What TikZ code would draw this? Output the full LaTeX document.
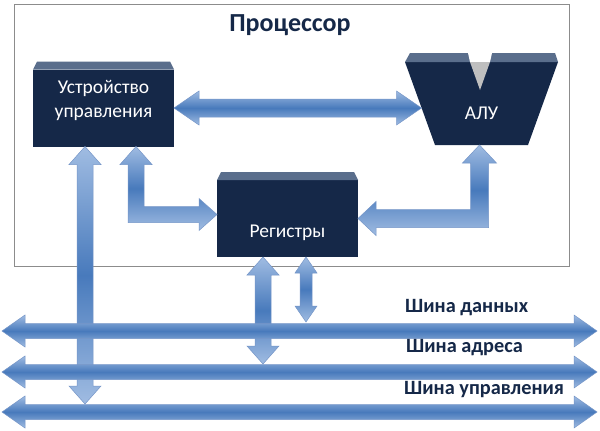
\documentclass[tikz,border=0pt]{standalone}
\usepackage{fontspec}
\setmainfont{Carlito}
\usetikzlibrary{calc}
\definecolor{navy}{RGB}{21,40,72}
\definecolor{bevelc}{RGB}{90,110,140}
\definecolor{arrlight}{RGB}{160,188,226}
\definecolor{arrdark}{RGB}{72,122,188}
\definecolor{arredge}{RGB}{118,150,200}
\definecolor{framec}{RGB}{140,140,140}
\def\fatS{8pt}\def\fatH{16pt}\def\fatL{18pt}
\begin{document}
\begin{tikzpicture}
  [x=1pt, y=-1pt,
   box/.style = {fill=navy, minimum width=141pt, minimum height=77pt, inner sep=0pt, outer sep=0pt},
   alu/.style = {minimum width=153pt, minimum height=83pt, inner sep=0pt, outer sep=0pt},
   boxtext/.style = {text=white, align=center, font=\fontsize{19.5}{24}\selectfont},
   bevel/.style = {fill=bevelc},
   title/.style = {text=navy, font=\fontsize{26}{30}\selectfont\bfseries},
   buslbl/.style = {text=navy, anchor=west, inner sep=0pt, font=\fontsize{20.3}{24}\selectfont\bfseries},
   fatshaft/.store in=\fatS, fathead/.store in=\fatH, fatlen/.store in=\fatL,
   fat/.style = {top color=arrlight, bottom color=arrlight, middle color=arrdark,
     draw=arredge, line width=0.5pt},
   dbl/.style = {fat, to path={
     let \p1=(\tikztostart), \p2=(\tikztotarget),
         \n1={atan2(\y2-\y1,\x2-\x1)}, \n2={veclen(\x2-\x1,\y2-\y1)} in
     {[shift={(\p1)}, rotate=\n1]
       (0pt,0pt) -- (\fatL,\fatH) -- (\fatL,\fatS) -- (\n2-\fatL,\fatS) -- (\n2-\fatL,\fatH)
       -- (\n2+0pt,0pt) -- (\n2-\fatL,-\fatH) -- (\n2-\fatL,-\fatS) -- (\fatL,-\fatS)
       -- (\fatL,-\fatH) -- cycle}}},
   Lfat/.style = {fat, to path={
     let \p1=(\tikztostart), \p2=(\tikztotarget), \n1={sign(\x2-\x1)} in
     (\p1) -- ({\x1+\n1*\fatH},{\y1-\fatL}) -- ({\x1+\n1*\fatS},{\y1-\fatL})
     -- ({\x1+\n1*\fatS},{\y2+\fatS}) -- ({\x2-\n1*\fatL},{\y2+\fatS})
     -- ({\x2-\n1*\fatL},{\y2+\fatH}) -- (\p2) -- ({\x2-\n1*\fatL},{\y2-\fatH})
     -- ({\x2-\n1*\fatL},{\y2-\fatS}) -- ({\x1-\n1*\fatS},{\y2-\fatS})
     -- ({\x1-\n1*\fatS},{\y1-\fatL}) -- ({\x1-\n1*\fatH},{\y1-\fatL}) -- cycle}}]
  \useasboundingbox[fill=white] (0,0) rectangle (600,431);
  \draw[framec, line width=1pt, fill=white] (14,4) rectangle (569,266);
  \node[title] (ttl) at (290,25) {Процессор};

  \node[box, label={[boxtext, yshift=8pt]center:Устройство\\управления}] (uu) at (103.5,108) {};
  \node[box, label={[boxtext, yshift=-14pt]center:Регистры}] (reg) at (287.5,218.5) {};
  \node[alu] (alu) at (481.5,103.5) {};
  \fill[navy] (alu.north west) -- (alu.north east) -- ([xshift=-30pt]alu.south east)
    -- ([xshift=30pt]alu.south west) -- cycle;
  \node[boxtext] (alut) at ([yshift=-9.5pt]alu.center) {АЛУ};
  \foreach \b in {uu,reg}
    \fill[bevel] (\b.north west) -- ++(4,-8) -- ([shift={(-4pt,8pt)}]\b.north east) -- (\b.north east) -- cycle;
  \fill[bevel] (alu.north west) -- ++(5,-9) -- ([shift={(-3pt,9pt)}]alu.north east) -- (alu.north east) -- cycle;
  \fill[white] ([shift={(-13.5pt,9pt)}]alu.north) -- ([shift={(10.5pt,9pt)}]alu.north)
    -- ([shift={(8.5pt,0pt)}]alu.north) -- ([shift={(-11.5pt,0pt)}]alu.north) -- cycle;
  \fill[black!25] ([xshift=-11.5pt]alu.north) -- ([xshift=8.5pt]alu.north) -- ([shift={(-1.5pt,-28pt)}]alu.north) -- cycle;

  % buses
  \coordinate (dL) at (2,331);  \coordinate (dR) at (597,331);
  \coordinate (aL) at (2,372);  \coordinate (aR) at (597,372);
  \coordinate (cL) at (2,412);  \coordinate (cR) at (597,412);

  \path[dbl] ([xshift=-18.5pt]uu.south) to ([xshift=-18.5pt,yshift=8pt]uu.south |- cL);
  \path[dbl] ([xshift=-24.5pt]reg.south) to ([xshift=-24.5pt,yshift=8pt]reg.south |- aL);
  \path[dbl, fatshaft=6pt, fathead=11pt, fatlen=16pt] ([xshift=18.5pt]reg.south) to ([xshift=18.5pt,yshift=9pt]reg.south |- dL);
  \foreach \b in {d,a,c}
    \path[dbl, fatshaft=7.5pt, fathead=16pt, fatlen=23pt] (\b L) to (\b R);

  \path[dbl, fatshaft=9pt, fathead=17pt, fatlen=25pt] (uu.east) to ([xshift=16.5pt]uu.east -| alu.west);
  \path[Lfat] ([xshift=32.5pt]uu.south) to ([yshift=4pt]reg.west);
  \path[Lfat, fatshaft=9pt, fathead=17pt] ([xshift=-2pt]alu.south) to (reg.east);

  \node[buslbl] (ldat) at (405,308) {Шина данных};
  \node[buslbl] (ladr) at (406,348) {Шина адреса};
  \node[buslbl] (lctl) at (404,390) {Шина управления};
\end{tikzpicture}
\end{document}
